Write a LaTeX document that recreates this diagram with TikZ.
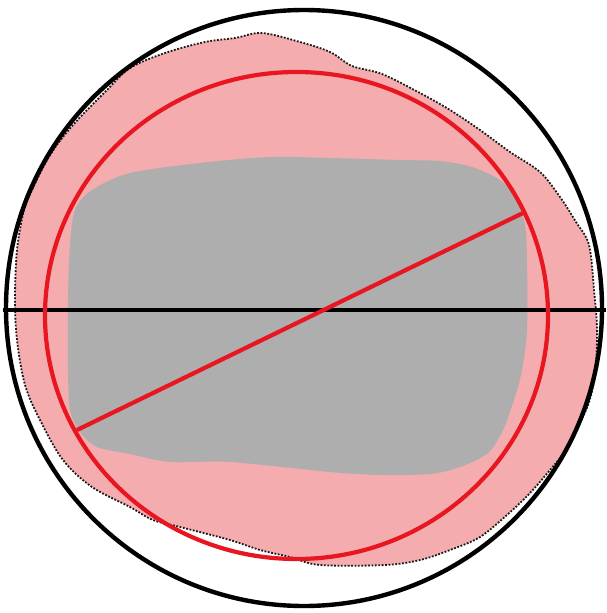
\documentclass[tikz,border=0pt]{standalone}
\usetikzlibrary{shapes.geometric}
\begin{document}
\begin{tikzpicture}[x=1pt,y=-1pt,
  blobfill/.style={fill=pinkc},
  blobedge/.style={draw=black!90,line width=1.8pt,dash pattern=on 1.8pt off 1.6pt},
  greyfill/.style={fill=greyc},
  blackline/.style={draw=black,line width=4.4pt},
  redline/.style={draw=redc,line width=4.2pt}]
\definecolor{pinkc}{RGB}{244,172,174}
\definecolor{greyc}{RGB}{174,174,174}
\definecolor{redc}{RGB}{232,22,32}
\useasboundingbox (0,0) rectangle (606,613);
% pink blob
\path[blobfill,blobedge] plot[smooth cycle,tension=0.55] coordinates {
 (107,90) (130,68) (165,53) (205,42) (235,38) (262,33) (300,42) (330,52) (352,66)
 (382,74) (420,93) (450,110) (480,130) (510,152) (540,172) (560,197) (576,222)
 (589,245) (594,290) (597,330) (595,375) (588,405) (576,430) (566,450) (550,470)
 (530,493) (508,514) (480,537) (450,550) (420,560) (385,565) (320,565) (290,557)
 (260,550) (230,540) (180,527) (153,520) (130,507) (92,487) (63,460) (40,420)
 (25,385) (17,340) (15,300) (17,250) (24,210) (32,190) (50,155) (73,125)};
% grey block
\path[greyfill] plot[smooth cycle,tension=0.5] coordinates {
 (75,210) (92,190) (130,173) (200,163) (270,157) (330,158) (400,160) (440,161)
 (472,167) (500,180) (516,198) (525,225) (527,260) (527,330) (522,370) (514,400)
 (503,430) (488,453) (460,467) (430,474) (380,475) (330,472) (230,462) (170,462)
 (130,454) (97,447) (80,432) (70,410) (68,370) (68,300) (70,245)};
% outer black circle
\node[circle,blackline,minimum size=596pt,inner sep=0pt] (outer) at (304,308) {};
% horizontal black diameter
\coordinate (hl) at (3,310);
\coordinate (hr) at (606,310);
\draw[blackline] (hl) -- (hr);
% red ellipse
\node[ellipse,redline,minimum width=503pt,minimum height=487pt,inner sep=0pt] (redc) at (296.5,315.5) {};
% red chord
\coordinate (ra) at (77,430);
\coordinate (rb) at (523,213);
\draw[redline] (ra) -- (rb);
\end{tikzpicture}
\end{document}
